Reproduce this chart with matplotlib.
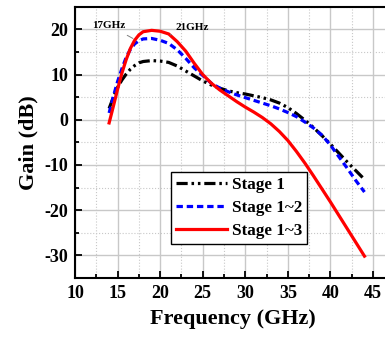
import matplotlib

matplotlib.use("Agg")
import matplotlib.pyplot as plt
from matplotlib.ticker import MultipleLocator

# frequency points (GHz) and gain (dB)
freq = [14, 14.5, 15, 15.5, 16, 16.5, 17, 17.5, 18, 19, 20, 21, 22, 23, 24,
        25, 26, 27, 28, 29, 30, 31, 32, 33, 34, 35, 36, 37, 38, 39, 40, 41,
        42, 43, 44]
stage1 = [2.5, 5.0, 7.2, 8.8, 10.1, 11.2, 12.0, 12.6, 12.9, 13.1, 13.0,
          12.7, 11.9, 10.8, 9.7, 8.6, 7.7, 7.0, 6.4, 6.0, 5.7, 5.3, 4.9,
          4.4, 3.7, 2.7, 1.4, -0.1, -1.7, -3.5, -5.4, -7.4, -9.4, -11.3,
          -13.2]
stage12 = [1.5, 5.2, 8.5, 11.3, 13.8, 15.6, 16.8, 17.5, 17.9, 18.0, 17.6,
           16.9, 15.5, 13.6, 11.5, 9.8, 8.1, 7.0, 6.2, 5.5, 4.9, 4.3, 3.7,
           3.1, 2.4, 1.6, 0.7, -0.5, -1.8, -3.4, -5.6, -8.2, -10.8, -13.5,
           -16.0]
stage13 = [-0.7, 3.0, 6.8, 10.3, 13.3, 15.8, 17.6, 18.8, 19.5, 19.8, 19.6,
           19.0, 17.3, 15.2, 12.5, 10.0, 8.1, 6.6, 5.3, 4.0, 2.8, 1.7, 0.5,
           -0.9, -2.6, -4.6, -7.0, -9.6, -12.4, -15.3, -18.2, -21.2, -24.2,
           -27.2, -30.2]
labels = ["Stage 1", "Stage 1~2", "Stage 1~3"]

plt.rcParams["font.family"] = "Liberation Serif"
plt.rcParams["font.weight"] = "bold"
plt.rcParams["axes.unicode_minus"] = False

fig = plt.figure(figsize=(3.85, 3.43), dpi=100)
ax = fig.add_axes([0.195, 0.19, 0.818, 0.79])

ax.plot(freq, stage1, color="black", lw=2.3,
        dashes=(3.5, 1.2, 0.8, 1.2, 0.8, 1.2), label=labels[0])
ax.plot(freq, stage12, color="blue", lw=2.3, dashes=(2, 1.2),
        label=labels[1])
ax.plot(freq, stage13, color="red", lw=2.3, label=labels[2])

# peak annotations
ax.annotate("17GHz", xy=(16.8, 18.0), xytext=(14.0, 20.9), fontsize=8,
            fontweight="bold", ha="center", va="center",
            arrowprops=dict(arrowstyle="-", color="grey", lw=0.7,
                            shrinkA=4, shrinkB=0))
ax.annotate("21GHz", xy=(21.2, 18.8), xytext=(21.8, 20.4), fontsize=8,
            fontweight="bold", ha="left", va="center",
            arrowprops=dict(arrowstyle="-", color="grey", lw=0.7,
                            shrinkA=1, shrinkB=0))

ax.set_xlim(10, 47)
ax.set_ylim(-35, 25)
ax.xaxis.set_major_locator(MultipleLocator(5))
ax.xaxis.set_minor_locator(MultipleLocator(2.5))
ax.yaxis.set_major_locator(MultipleLocator(10))
ax.yaxis.set_minor_locator(MultipleLocator(5))
ax.set_xticks(range(10, 50, 5))
ax.set_xticklabels([str(v) for v in range(10, 50, 5)])

ax.grid(which="major", color="#c8c8c8", lw=1.0, ls="-")
ax.grid(which="minor", color="#c8c8c8", lw=0.8, ls=":")
ax.set_axisbelow(True)

ax.tick_params(which="both", direction="in", width=1.3, labelsize=13,
               pad=5)
ax.tick_params(which="major", length=5)
ax.tick_params(which="minor", length=3)
for s in ax.spines.values():
    s.set_linewidth(1.5)

ax.set_xlabel("Frequency (GHz)", fontsize=16, fontweight="bold", labelpad=5)
ax.set_ylabel("Gain (dB)", fontsize=16, fontweight="bold", labelpad=4)

leg = ax.legend(loc="upper left", bbox_to_anchor=(171 / 385, 1 - 172 / 343),
                bbox_transform=fig.transFigure, borderaxespad=0,
                handlelength=3.0, handletextpad=0.25,
                labelspacing=0.4, borderpad=0.3, fancybox=False,
                framealpha=1, edgecolor="black",
                prop={"weight": "bold", "size": 12.3})
leg.get_frame().set_linewidth(1.0)

fig.savefig("out.png", dpi=100)
